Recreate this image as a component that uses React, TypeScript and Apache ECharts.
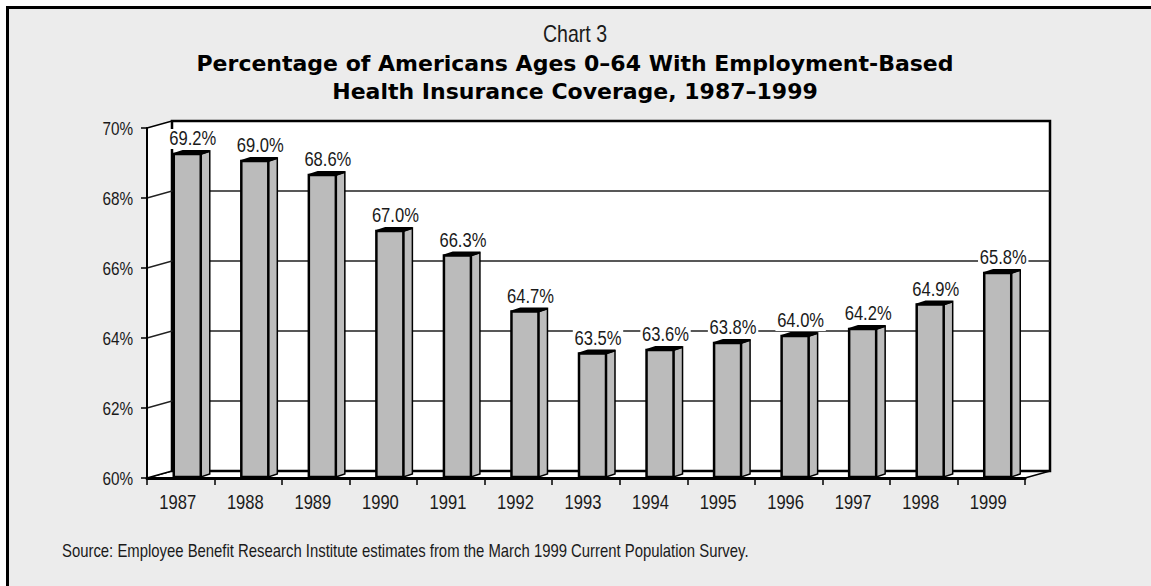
import React, { useEffect, useRef } from "react";
import * as echarts from "echarts";

const categories = ["1987", "1988", "1989", "1990", "1991", "1992", "1993", "1994", "1995", "1996", "1997", "1998", "1999"];
const values = [69.2, 69.0, 68.6, 67.0, 66.3, 64.7, 63.5, 63.6, 63.8, 64.0, 64.2, 64.9, 65.8];
const yMin = 60;
const yMax = 70;
const yStep = 2;
const yTicks = [60, 62, 64, 66, 68, 70];
const gridValues = [62, 64, 66, 68];

const chartLabel = "Chart 3";
const titleLine1 = "Percentage of Americans Ages 0–64 With Employment-Based";
const titleLine2 = "Health Insurance Coverage, 1987–1999";
const sourceText = "Source: Employee Benefit Research Institute estimates from the March 1999 Current Population Survey.";

const NARROW = "'Liberation Sans', Arial, sans-serif";
const SX = 0.85;
const BOLD = "'DejaVu Sans', Verdana, sans-serif";
const TXT = "#1a1a1a";

export default function App() {
  const ref = useRef<HTMLDivElement>(null);
  useEffect(() => {
    if (!ref.current) return;
    const chart = echarts.init(ref.current, null, { renderer: "svg" });
    const DX = 25;
    const DY = -7;

    const wallsRender = (params: any, api: any) => {
      const cs = params.coordSys;
      const x0 = cs.x;
      const y0 = cs.y;
      const w = cs.width;
      const h = cs.height;
      const children: any[] = [];
      children.push({
        type: "polygon",
        shape: { points: [[x0, y0 + h], [x0 + DX, y0 + h + DY], [x0 + DX + w, y0 + h + DY], [x0 + w, y0 + h]] },
        style: { fill: "#fff", stroke: "#000", lineWidth: 1.5 },
      });
      children.push({
        type: "polygon",
        shape: { points: [[x0, y0], [x0 + DX, y0 + DY], [x0 + DX, y0 + h + DY], [x0, y0 + h]] },
        style: { fill: "#fff", stroke: "#000", lineWidth: 1.5 },
      });
      children.push({
        type: "rect",
        shape: { x: x0 + DX, y: y0 + DY, width: w, height: h },
        style: { fill: "#fff", stroke: "#000", lineWidth: 2.5 },
      });
      gridValues.forEach((v) => {
        const y = api.coord([0, v])[1];
        children.push({
          type: "polyline",
          shape: { points: [[x0, y], [x0 + DX, y + DY], [x0 + DX + w, y + DY]] },
          style: { fill: "none", stroke: "#222", lineWidth: 1.5 },
        });
      });
      return { type: "group", children };
    };

    const barsRender = (params: any, api: any) => {
      const idx = api.value(0);
      const v = api.value(1);
      const c = api.coord([idx, v]);
      const base = api.coord([idx, yMin]);
      const L = c[0] - 7;
      const W = 27;
      const R = L + W;
      const T = c[1] - 2;
      const B = base[1] - 1;
      const bx = 9;
      const by = -3;
      return {
        type: "group",
        children: [
          {
            type: "polygon",
            shape: { points: [[R, T], [R + bx, T + by], [R + bx, B + by], [R, B]] },
            style: { fill: "#bdbdbd", stroke: "#000", lineWidth: 1.5 },
          },
          {
            type: "polygon",
            shape: { points: [[L, T], [R, T], [R + bx, T + by], [L + bx, T + by]] },
            style: { fill: "#000", stroke: "#000", lineWidth: 2 },
          },
          {
            type: "rect",
            shape: { x: L, y: T, width: W, height: B - T },
            style: { fill: "#bbbbbb", stroke: "#000", lineWidth: 2.5 },
          },
          {
            type: "text",
            x: c[0] + 12,
            y: c[1] - 17,
            scaleX: SX,
            style: {
              text: v.toFixed(1) + "%",
              x: 0,
              y: 0,
              align: "center",
              verticalAlign: "middle",
              fontSize: 19.5,
              fontFamily: NARROW,
              fill: TXT,
              backgroundColor: "#fff",
              padding: [0, 2],
            },
          },
        ],
      };
    };

    const xLabelRender = (params: any, api: any) => {
      const idx = api.value(0);
      const p = api.coord([idx, yMin]);
      return {
        type: "text",
        x: p[0] - 3,
        y: p[1] + 25,
        scaleX: SX,
        style: {
          text: categories[idx],
          x: 0,
          y: 0,
          align: "center",
          verticalAlign: "middle",
          fontSize: 19.5,
          fontFamily: NARROW,
          fill: TXT,
        },
      };
    };

    const yLabelRender = (params: any, api: any) => {
      const v = api.value(1);
      const p = api.coord([0, v]);
      return {
        type: "text",
        x: params.coordSys.x - 14,
        y: p[1] + 1,
        scaleX: SX,
        style: {
          text: v + "%",
          x: 0,
          y: 0,
          align: "right",
          verticalAlign: "middle",
          fontSize: 18,
          fontFamily: NARROW,
          fill: TXT,
        },
      };
    };

    chart.setOption({
      animation: false,
      backgroundColor: "#fff",
      grid: { left: 147, right: 126, top: 128, bottom: 108, containLabel: false },
      xAxis: {
        type: "category",
        data: categories,
        axisLine: { lineStyle: { color: "#000", width: 3 } },
        axisTick: { show: true, length: 7, interval: 0, lineStyle: { color: "#000", width: 1.5 } },
        axisLabel: { show: false },
        splitLine: { show: false },
        z: 5,
      },
      yAxis: {
        type: "value",
        min: yMin,
        max: yMax,
        interval: yStep,
        axisLine: { show: true, lineStyle: { color: "#000", width: 2 } },
        axisTick: { show: true, length: 6, lineStyle: { color: "#000", width: 1.5 } },
        axisLabel: { show: false },
        splitLine: { show: false },
        z: 5,
      },
      graphic: [
        {
          type: "rect",
          z: -10,
          silent: true,
          shape: { x: 7.5, y: 7.5, width: 1300, height: 1000 },
          style: { fill: "#ececec", stroke: "#000", lineWidth: 3 },
        },
        {
          type: "text",
          x: 575,
          y: 34,
          scaleX: SX,
          style: { text: chartLabel, x: 0, y: 0, align: "center", verticalAlign: "middle", fontSize: 23, fontFamily: NARROW, fill: TXT },
        },
        {
          type: "text",
          x: 575,
          y: 63,
          style: { text: titleLine1, align: "center", verticalAlign: "middle", fontSize: 22, fontWeight: "bold", fontFamily: BOLD, fill: "#000" },
        },
        {
          type: "text",
          x: 575,
          y: 91,
          style: { text: titleLine2, align: "center", verticalAlign: "middle", fontSize: 22, fontWeight: "bold", fontFamily: BOLD, fill: "#000" },
        },
        {
          type: "text",
          x: 62,
          y: 551,
          scaleX: SX,
          style: { text: sourceText, x: 0, y: 0, align: "left", verticalAlign: "middle", fontSize: 17.5, fontFamily: NARROW, fill: TXT },
        },
      ],
      series: [
        {
          type: "custom",
          renderItem: wallsRender,
          data: [[0, yMin]],
          silent: true,
          z: 1,
        },
        {
          type: "custom",
          renderItem: barsRender,
          data: values.map((v, i) => [i, v]),
          z: 3,
        },
        {
          type: "custom",
          renderItem: xLabelRender,
          data: categories.map((_, i) => [i, yMin]),
          silent: true,
          z: 4,
        },
        {
          type: "custom",
          renderItem: yLabelRender,
          data: yTicks.map((v) => [0, v]),
          silent: true,
          z: 4,
        },
      ],
    });
    return () => chart.dispose();
  }, []);
  return <div ref={ref} style={{ position: "absolute", left: 0, top: 0, width: 1151, height: 586 }} />;
}
